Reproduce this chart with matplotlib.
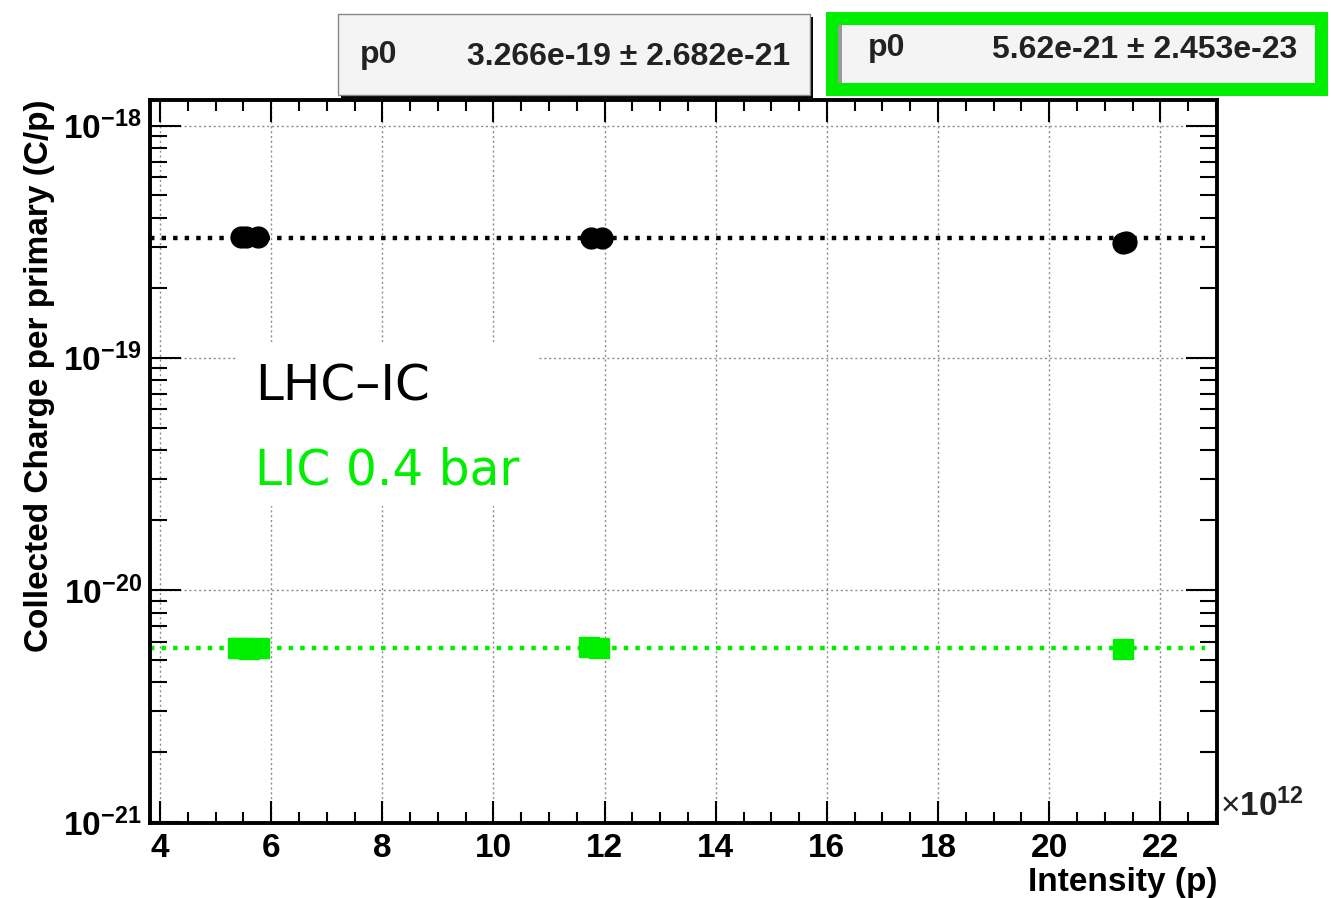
import numpy as np
import matplotlib
matplotlib.use('Agg')
import matplotlib.pyplot as plt
from matplotlib.patches import Rectangle
from matplotlib.ticker import FixedLocator, FuncFormatter, MultipleLocator

plt.rcParams['font.family'] = ['Liberation Sans', 'DejaVu Sans']
plt.rcParams['mathtext.fontset'] = 'custom'
plt.rcParams['mathtext.rm'] = 'Liberation Sans'
plt.rcParams['mathtext.bf'] = 'Liberation Sans:bold'

# LHC-IC (black) and LIC 0.4 bar (green) : charge per primary vs intensity (x1e12)
lhc_x = [5.45, 5.55, 5.77, 11.75, 11.95, 21.33, 21.38]
lhc_y = [3.30e-19, 3.30e-19, 3.30e-19, 3.27e-19, 3.29e-19, 3.12e-19, 3.15e-19]
lic_x = [5.4, 5.5, 5.6, 5.78, 11.72, 11.9, 21.33]
lic_y = [5.65e-21, 5.62e-21, 5.60e-21, 5.63e-21, 5.66e-21, 5.64e-21, 5.55e-21]

# constant fits (p0 +- err)
fit_lhc = 3.266e-19
fit_lhc_err = 2.682e-21
fit_lic = 5.62e-21
fit_lic_err = 2.453e-23
fit_range = [3.82, 22.8]

green = '#00ee00'

W, H = 1331, 898
fig = plt.figure(figsize=(W / 100, H / 100), dpi=100)
ax = fig.add_axes([150 / W, 1 - 823 / H, 1067 / W, 723 / H])

ax.set_yscale('log')
ax.set_xlim(3.82, 23.02)
ax.set_ylim(10 ** -21.003, 10 ** -17.89)

# grid
for xv in range(4, 23, 2):
    ax.axvline(xv, color='#8c8c8c', lw=1.0, ls=(0, (1.5, 2)), zorder=0)
for yv in [1e-18, 1e-19, 1e-20]:
    ax.axhline(yv, color='#8c8c8c', lw=1.0, ls=(0, (1.5, 2)), zorder=0)

# white box behind the labels
ax.add_patch(Rectangle(((237 - 150) / 1067, (823 - 506) / 723), 300 / 1067, 164 / 723,
                       transform=ax.transAxes, facecolor='white', edgecolor='none', zorder=1))

# fits
ax.plot(fit_range, [fit_lhc, fit_lhc], color='black', lw=3.2, ls=(0, (1.0, 1.6)), zorder=2)
ax.plot(fit_range, [fit_lic, fit_lic], color=green, lw=3.2, ls=(0, (1.0, 1.6)), zorder=2)

# data
ax.plot(lhc_x, lhc_y, 'o', color='black', ms=15, zorder=3)
ax.plot(lic_x, lic_y, 's', color=green, ms=14, zorder=3)

# ticks, ROOT style
ax.xaxis.set_major_locator(MultipleLocator(2))
ax.xaxis.set_minor_locator(MultipleLocator(0.5))
ax.yaxis.set_major_locator(FixedLocator([1e-21, 1e-20, 1e-19, 1e-18]))
minors = [m * 10.0 ** e for e in range(-21, -17) for m in range(2, 10)]
ax.yaxis.set_minor_locator(FixedLocator(minors))
ax.yaxis.set_major_formatter(FuncFormatter(lambda v, p: r'$\mathbf{10^{%d}}$' % round(np.log10(v))))
ax.yaxis.set_minor_formatter(FuncFormatter(lambda v, p: ''))
ax.tick_params(which='both', direction='in', top=True, right=True, width=1.5)
ax.tick_params(axis='x', which='major', length=16, labelsize=24, pad=7)
ax.tick_params(axis='x', which='minor', length=8)
ax.tick_params(axis='y', which='major', length=22, labelsize=24, pad=6)
ax.tick_params(axis='y', which='minor', length=12)
for lab in ax.get_xticklabels():
    lab.set_fontweight('bold')
for s in ax.spines.values():
    s.set_linewidth(2.8)

ax.set_xlabel('Intensity (p)', loc='right', fontsize=24, fontweight='bold', labelpad=2)
ax.set_ylabel('Collected Charge per primary (C/p)', loc='top', fontsize=24, fontweight='bold', labelpad=6)
ax.text(1.003, 0.0, r'$\times\mathbf{10^{12}}$', transform=ax.transAxes, fontsize=24,
        ha='left', va='bottom', color='#222222')

ax.text(0.0984, 0.585, 'LHC–IC', transform=ax.transAxes, fontsize=36, color='black',
        family='DejaVu Sans', va='baseline', zorder=4)
ax.text(0.0984, 0.4675, 'LIC 0.4 bar', transform=ax.transAxes, fontsize=35, color=green,
        family='DejaVu Sans', va='baseline', zorder=4)


def figrect(x0, y0, x1, y1, **kw):
    fig.add_artist(Rectangle((x0 / W, 1 - y1 / H), (x1 - x0) / W, (y1 - y0) / H,
                             transform=fig.transFigure, **kw))


# stat box 1
figrect(341, 17, 813, 98, facecolor='black', edgecolor='none')
figrect(338, 14, 810, 95, facecolor='#f4f4f4', edgecolor='#888888', lw=1)
fig.text(360 / W, 1 - 55 / H, 'p0', fontsize=23, fontweight='bold', va='center', color='#222222')
fig.text(790 / W, 1 - 57 / H, f'{fit_lhc:.4g} \u00b1 {fit_lhc_err:.4g}',
         fontsize=23, fontweight='bold', va='center', ha='right', color='#222222')

# stat box 2 (green frame)
figrect(826, 12, 1328, 96, facecolor=green, edgecolor='none')
figrect(838, 25, 1315, 83, facecolor='#f4f4f4', edgecolor='none')
figrect(838, 25, 842, 83, facecolor='#999999', edgecolor='none')
fig.text(868 / W, 1 - 48 / H, 'p0', fontsize=23, fontweight='bold', va='center', color='#222222')
fig.text(1297 / W, 1 - 50 / H, f'{fit_lic:.4g} \u00b1 {fit_lic_err:.4g}',
         fontsize=23, fontweight='bold', va='center', ha='right', color='#222222')

fig.savefig('out.png', dpi=100)
